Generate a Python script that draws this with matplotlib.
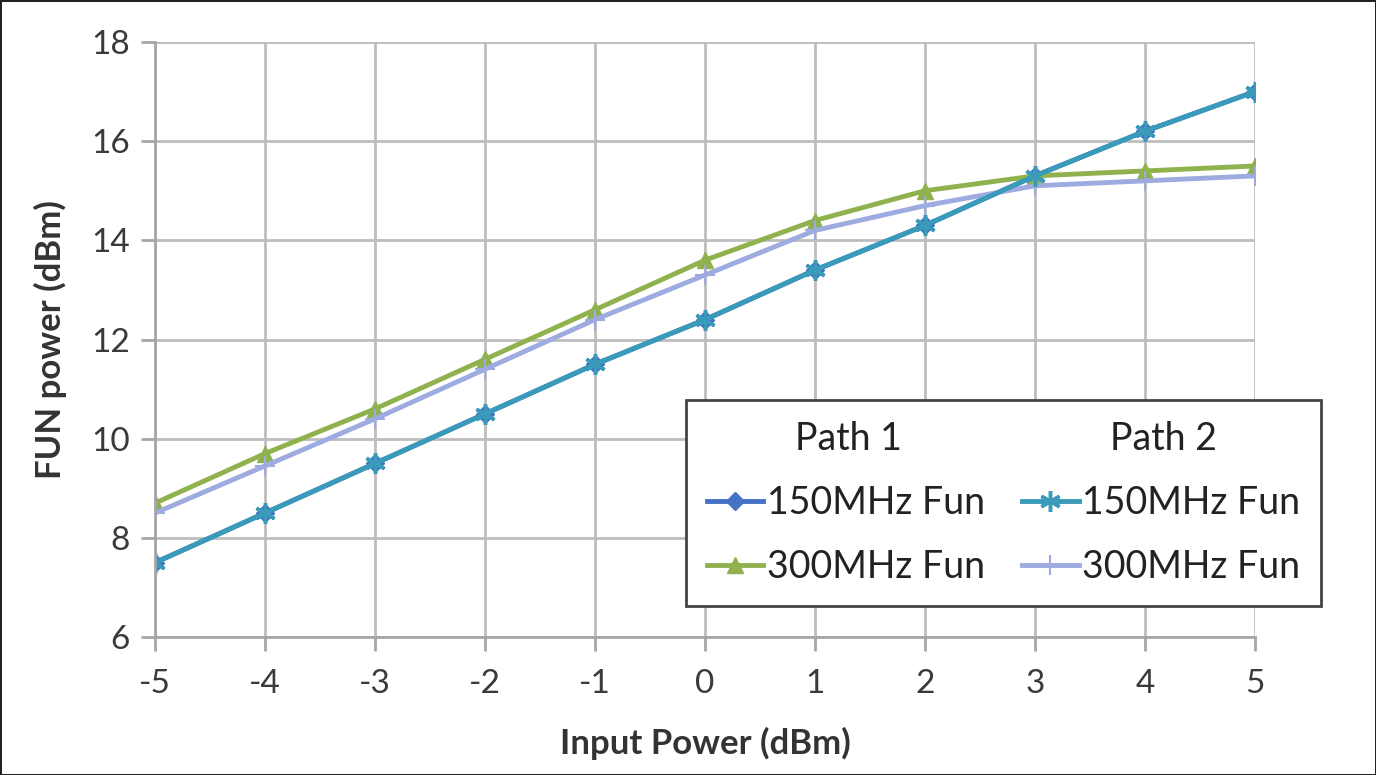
import matplotlib

matplotlib.use("Agg")
import matplotlib.pyplot as plt
from matplotlib.lines import Line2D

plt.rcParams["font.family"] = ["Lato", "DejaVu Sans"]
plt.rcParams["axes.unicode_minus"] = False

input_dbm = [-5, -4, -3, -2, -1, 0, 1, 2, 3, 4, 5]
p1_150 = [7.5, 8.5, 9.5, 10.5, 11.5, 12.4, 13.4, 14.3, 15.3, 16.2, 17.0]
p1_300 = [8.7, 9.7, 10.6, 11.6, 12.6, 13.6, 14.4, 15.0, 15.3, 15.4, 15.5]
p2_150 = [7.5, 8.5, 9.5, 10.5, 11.5, 12.4, 13.4, 14.3, 15.3, 16.2, 17.0]
p2_300 = [8.5, 9.45, 10.4, 11.4, 12.4, 13.3, 14.2, 14.7, 15.1, 15.2, 15.3]

fig = plt.figure(figsize=(13.76, 7.75), dpi=100)
fig.patch.set_edgecolor("#222222")
fig.patch.set_linewidth(2)
ax = fig.add_axes([0.1126, 0.178, 0.7994, 0.7678])

l1, = ax.plot(input_dbm, p1_150, color="#4472c4", lw=3.5, marker="D", ms=9)
l3, = ax.plot(input_dbm, p1_300, color="#8fb24f", lw=3.5, marker="^", ms=12)
l4, = ax.plot(input_dbm, p2_300, color="#9dabe0", lw=3.5, marker="+", ms=14, mew=1.5)
l2, = ax.plot(input_dbm, p2_150, color="#3a9ab9", lw=3.5, marker=(6, 2, 0), ms=15, mew=2.5)

ax.set_xlim(-5, 5)
ax.set_ylim(6, 18)
ax.set_xticks(input_dbm)
ax.set_yticks(range(6, 19, 2))
ax.grid(True, color="#bdbdbd", lw=2)
ax.set_axisbelow(True)
for s in ["top", "right"]:
    ax.spines[s].set_visible(False)
for s in ["left", "bottom"]:
    ax.spines[s].set_color("#a6a6a6")
    ax.spines[s].set_linewidth(2)
ax.tick_params(length=10, width=2, color="#a6a6a6", labelsize=24, labelcolor="#3a3a3a", pad=8)
ax.tick_params(axis="x", pad=13)
ax.set_xlabel("Input Power (dBm)", fontsize=25, fontweight="bold", color="#333333", labelpad=20)
ax.set_ylabel("FUN power (dBm)", fontsize=25, fontweight="bold", color="#333333", labelpad=17)

blank = Line2D([], [], color="none")
handles = [blank, l1, l3, blank, l2, l4]
labels = ["Path 1", "150MHz Fun", "300MHz Fun", "Path 2", "150MHz Fun", "300MHz Fun"]
leg = fig.legend(handles, labels, ncol=2, loc="upper left", bbox_to_anchor=(686 / 1376, 1 - 400 / 775),
                 borderaxespad=0, fontsize=27, frameon=True, fancybox=False, edgecolor="#444444",
                 framealpha=1, handlelength=1.5, handletextpad=0.1, columnspacing=1.0,
                 labelspacing=0.75, borderpad=0.55, labelcolor="#222222")
leg.get_frame().set_linewidth(2)
for t in leg.get_texts():
    if t.get_text().startswith("Path"):
        t.set_position((28, 0))

fig.savefig("out.png", dpi=100, edgecolor=fig.get_edgecolor())
